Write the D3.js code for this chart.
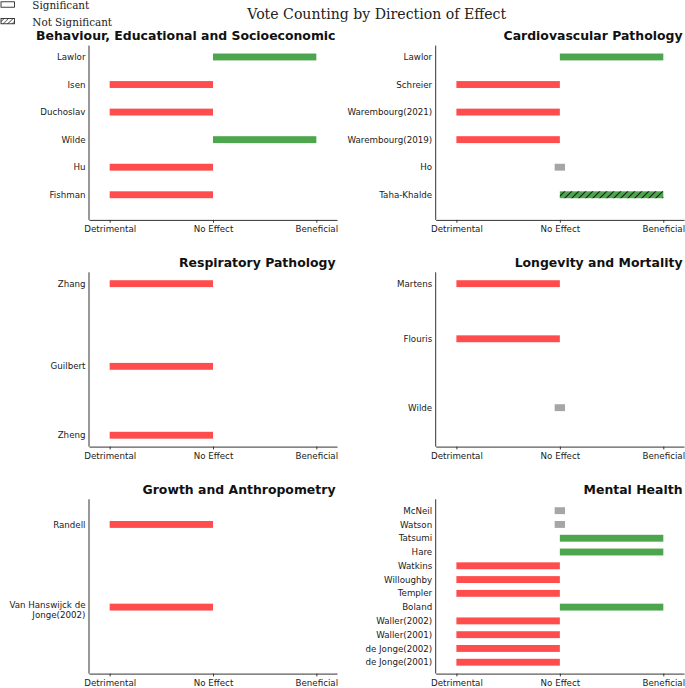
<!DOCTYPE html>
<html>
<head>
<meta charset="utf-8">
<script src="https://cdn.jsdelivr.net/npm/d3@7"></script>
<style>
  html, body { margin: 0; padding: 0; background: #fff; }
  svg { display: block; }
</style>
</head>
<body>
<div id="chart"></div>
<script>
// ---------------- data ----------------
const tickValues = [-1, 0, 1];
const tickLabels = ["Detrimental", "No Effect", "Beneficial"];

const panelTitles = [
  "Behaviour, Educational and Socioeconomic",
  "Cardiovascular Pathology",
  "Respiratory Pathology",
  "Longevity and Mortality",
  "Growth and Anthropometry",
  "Mental Health"
];

// studies per panel (top to bottom)
const behaviourStudies = ["Lawlor", "Isen", "Duchoslav", "Wilde", "Hu", "Fishman"];
const behaviourEffect  = [1, -1, -1, 1, -1, -1];
const behaviourSig     = [true, true, true, true, true, true];
const behaviourSlot    = [0, 2, 4, 6, 8, 10];

const cardioStudies = ["Lawlor", "Schreier", "Warembourg(2021)", "Warembourg(2019)", "Ho", "Taha-Khalde"];
const cardioEffect  = [1, -1, -1, -1, 0, 1];
const cardioSig     = [true, true, true, true, true, false];
const cardioSlot    = [0, 2, 4, 6, 8, 10];

const respStudies = ["Zhang", "Guilbert", "Zheng"];
const respEffect  = [-1, -1, -1];
const respSig     = [true, true, true];
const respSlot    = [0, 6, 11];

const longevStudies = ["Martens", "Flouris", "Wilde"];
const longevEffect  = [-1, -1, 0];
const longevSig     = [true, true, true];
const longevSlot    = [0, 4, 9];

const growthStudies = ["Randell", "Van Hanswijck de\nJonge(2002)"];
const growthEffect  = [-1, -1];
const growthSig     = [true, true];
const growthSlot    = [1, 7];

const mentalStudies = ["McNeil", "Watson", "Tatsumi", "Hare", "Watkins", "Willoughby", "Templer",
  "Boland", "Waller(2002)", "Waller(2001)", "de Jonge(2002)", "de Jonge(2001)"];
const mentalEffect  = [0, 0, 1, 1, -1, -1, -1, 1, -1, -1, -1, -1];
const mentalSig     = [true, true, true, true, true, true, true, true, true, true, true, true];
const mentalSlot    = [0, 1, 2, 3, 4, 5, 6, 7, 8, 9, 10, 11];

const legendLabels = ["Significant", "Not Significant"];
const figTitle = "Vote Counting by Direction of Effect";

// ---------------- build ----------------
function rows(studies, effect, sig, slot) {
  return studies.map((s, i) => ({ study: s, effect: effect[i], sig: sig[i], slot: slot[i] }));
}
const panels = [
  rows(behaviourStudies, behaviourEffect, behaviourSig, behaviourSlot),
  rows(cardioStudies, cardioEffect, cardioSig, cardioSlot),
  rows(respStudies, respEffect, respSig, respSlot),
  rows(longevStudies, longevEffect, longevSig, longevSlot),
  rows(growthStudies, growthEffect, growthSig, growthSlot),
  rows(mentalStudies, mentalEffect, mentalSig, mentalSlot)
];

const W = 685, H = 688;
const cols = [{ l: 89, r: 337 }, { l: 435.7, r: 684 }];
const rowsY = [{ t: 45.6, b: 219.9 }, { t: 272.3, b: 446.6 }, { t: 499.3, b: 673.6 }];
const colorFor = e => e < 0 ? "#ff4d4d" : (e > 0 ? "#4da64d" : "#a6a6a6");
const sans = "'DejaVu Sans', sans-serif";
const serif = "'DejaVu Serif', serif";

const svg = d3.select("#chart").append("svg")
  .attr("width", W).attr("height", H)
  .attr("viewBox", `0 0 ${W} ${H}`);

const defs = svg.append("defs");
const pat = defs.append("pattern").attr("id", "hatch")
  .attr("patternUnits", "userSpaceOnUse").attr("width", 7).attr("height", 7);
pat.append("path").attr("d", "M-1,1 l2,-2 M0,7 l7,-7 M6,8 l2,-2")
  .attr("stroke", "#1a1a1a").attr("stroke-width", 1.1);
const pat2 = defs.append("pattern").attr("id", "hatchLegend")
  .attr("patternUnits", "userSpaceOnUse").attr("width", 4.5).attr("height", 4.5);
pat2.append("path").attr("d", "M-1,1 l2,-2 M0,4.5 l4.5,-4.5 M3.5,5.5 l2,-2")
  .attr("stroke", "#222").attr("stroke-width", 0.9);

panels.forEach((data, pi) => {
  const c = cols[pi % 2], r = rowsY[Math.floor(pi / 2)];
  const x = d3.scaleLinear().domain([-1.2, 1.2]).range([c.l, c.r]);
  const y = d3.scaleLinear().domain([-0.825, 11.825]).range([r.t, r.b]);
  const g = svg.append("g");

  // bars
  const barStart = d => d.effect === 0 ? -0.05 : Math.min(0, d.effect);
  const barEnd = d => d.effect === 0 ? 0.05 : Math.max(0, d.effect);
  g.selectAll("rect.bar").data(data).join("rect")
    .attr("class", "bar")
    .attr("x", d => x(barStart(d)))
    .attr("width", d => x(barEnd(d)) - x(barStart(d)))
    .attr("y", d => y(d.slot - 0.25))
    .attr("height", d => y(d.slot + 0.25) - y(d.slot - 0.25))
    .attr("fill", d => colorFor(d.effect));
  g.selectAll("rect.hatch").data(data.filter(d => !d.sig)).join("rect")
    .attr("class", "hatch")
    .attr("x", d => x(barStart(d)))
    .attr("width", d => x(barEnd(d)) - x(barStart(d)))
    .attr("y", d => y(d.slot - 0.25))
    .attr("height", d => y(d.slot + 0.25) - y(d.slot - 0.25))
    .attr("fill", "url(#hatch)");

  // x axis
  const xa = g.append("g").attr("transform", `translate(0,${r.b})`)
    .call(d3.axisBottom(x).tickValues(tickValues)
      .tickFormat((v, i) => tickLabels[i]).tickSize(2.8).tickPadding(3.5).tickSizeOuter(0));
  xa.select(".domain").attr("stroke", "#333").attr("stroke-width", 1);
  xa.selectAll(".tick line").attr("stroke", "#333");
  xa.selectAll(".tick text").attr("font-family", sans).attr("font-size", 8.7).attr("fill", "#1a1a1a");

  // y axis (spine + labels)
  g.append("line").attr("x1", c.l).attr("x2", c.l).attr("y1", r.t).attr("y2", r.b)
    .attr("stroke", "#333").attr("stroke-width", 1);
  const labels = g.selectAll("text.ylab").data(data).join("text")
    .attr("class", "ylab")
    .attr("x", c.l - 3.5)
    .attr("y", d => y(d.slot) + (d.study.includes("\n") ? 0.8 : 3.1))
    .attr("text-anchor", "end")
    .attr("font-family", sans).attr("font-size", 8.7).attr("fill", "#1a1a1a");
  labels.each(function(d) {
    const lines = d.study.split("\n");
    const t = d3.select(this);
    lines.forEach((ln, li) => {
      t.append("tspan").attr("x", c.l - 3.5).attr("dy", li === 0 ? 0 : 10.5).text(ln);
    });
  });

  // title
  g.append("text").attr("x", c.r - 1.5).attr("y", r.t - 5.6)
    .attr("text-anchor", "end")
    .attr("font-family", sans).attr("font-weight", "bold").attr("font-size", 12.45)
    .attr("fill", "#111").text(panelTitles[pi]);
});

// suptitle
svg.append("text").attr("x", 376.7).attr("y", 19)
  .attr("text-anchor", "middle").attr("font-family", serif).attr("font-size", 14.1)
  .attr("fill", "#222").text(figTitle);

// legend
const lg = svg.append("g");
lg.selectAll("rect").data(legendLabels).join("rect")
  .attr("x", 1).attr("y", (d, i) => 1.8 + i * 16.6)
  .attr("width", 13.4).attr("height", 5.4)
  .attr("fill", (d, i) => i === 0 ? "none" : "url(#hatchLegend)")
  .attr("stroke", "#111").attr("stroke-width", 0.8);
lg.selectAll("text").data(legendLabels).join("text")
  .attr("x", 32.3).attr("y", (d, i) => 8.9 + i * 16.6)
  .attr("font-family", serif).attr("font-size", 10.4).attr("fill", "#222")
  .text(d => d);
</script>
</body>
</html>
